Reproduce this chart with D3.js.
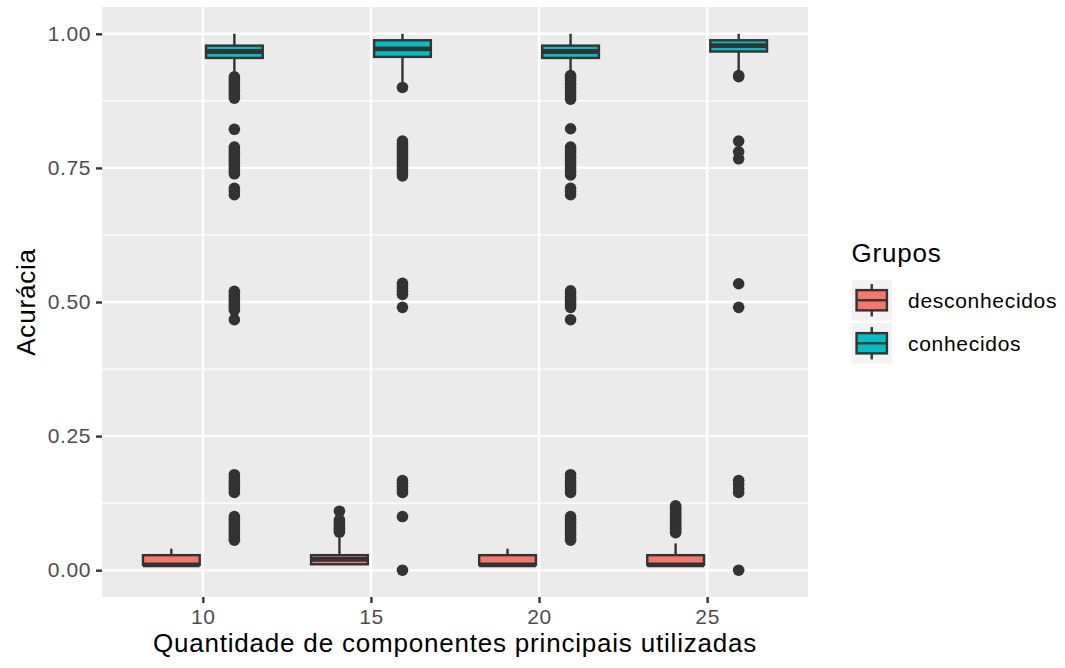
<!DOCTYPE html>
<html>
<head>
<meta charset="utf-8">
<script src="https://cdn.jsdelivr.net/npm/d3@7"></script>
<style>
  body { margin: 0; background: #fff; }
  svg text { font-family: "Liberation Sans", Arial, sans-serif; }
</style>
</head>
<body>
<script>
// categories / groups
var components = ["10", "15", "20", "25"];
var groups = ["desconhecidos", "conhecidos"];
var groupColors = ["#F8766D", "#00BFC4"];
var yTicks = [0, 0.25, 0.5, 0.75, 1];
var yMinor = [0.125, 0.375, 0.625, 0.875];

// box stats, one value per component
var descLower  = [0.01, 0.01, 0.01, 0.01];
var descQ1     = [0.01, 0.011, 0.01, 0.01];
var descMedian = [0.01, 0.02, 0.01, 0.01];
var descQ3     = [0.028, 0.028, 0.028, 0.028];
var descUpper  = [0.04, 0.06, 0.04, 0.05];

var conhLower  = [0.93, 0.91, 0.93, 0.932];
var conhQ1     = [0.955, 0.957, 0.955, 0.967];
var conhMedian = [0.967, 0.972, 0.967, 0.978];
var conhQ3     = [0.978, 0.988, 0.978, 0.988];
var conhUpper  = [1, 1, 1, 1];

// outliers
var outDesc10 = [];
var outDesc15 = [0.11, 0.094, 0.09, 0.086, 0.082, 0.078, 0.074, 0.071];
var outDesc20 = [];
var outDesc25 = [0.12, 0.117, 0.114, 0.111, 0.108, 0.105, 0.102, 0.099, 0.096, 0.093, 0.09,
                 0.087, 0.084, 0.081, 0.078, 0.075, 0.072, 0.07];

var outConh10 = [0.92, 0.915, 0.91, 0.905, 0.90, 0.895, 0.89, 0.885, 0.88,
                 0.822,
                 0.789, 0.784, 0.779, 0.774, 0.769, 0.764, 0.759, 0.754, 0.749, 0.744, 0.739,
                 0.712, 0.706, 0.70,
                 0.52, 0.515, 0.51, 0.505, 0.50, 0.495, 0.49, 0.485, 0.467,
                 0.178, 0.172, 0.166, 0.16, 0.155, 0.15, 0.145,
                 0.10, 0.095, 0.09, 0.085, 0.08, 0.075, 0.07, 0.065, 0.06, 0.056];
var outConh15 = [0.90,
                 0.80, 0.795, 0.79, 0.785, 0.78, 0.775, 0.77, 0.765, 0.76, 0.755, 0.75, 0.745, 0.74, 0.735,
                 0.535, 0.53, 0.525, 0.52, 0.514,
                 0.49,
                 0.167, 0.162, 0.156, 0.15, 0.145,
                 0.10,
                 0.0];
var outConh20 = [0.922, 0.917, 0.912, 0.906, 0.90, 0.895, 0.89, 0.884, 0.878,
                 0.823,
                 0.789, 0.784, 0.779, 0.774, 0.769, 0.764, 0.759, 0.754, 0.749, 0.743, 0.737,
                 0.712, 0.706, 0.70,
                 0.521, 0.516, 0.51, 0.505, 0.50, 0.495, 0.49, 0.467,
                 0.178, 0.172, 0.166, 0.16, 0.155, 0.15, 0.145,
                 0.10, 0.095, 0.09, 0.085, 0.08, 0.075, 0.07, 0.065, 0.06, 0.056];
var outConh25 = [0.922, 0.92, 0.80, 0.78, 0.767, 0.534, 0.49, 0.167, 0.16, 0.152, 0.145, 0.0];

var descOut = [outDesc10, outDesc15, outDesc20, outDesc25];
var conhOut = [outConh10, outConh15, outConh20, outConh25];

// build the box table
var boxes = [];
components.forEach(function(c, i) {
  boxes.push({comp: c, g: 0, lower: descLower[i], q1: descQ1[i], median: descMedian[i],
              q3: descQ3[i], upper: descUpper[i], out: descOut[i]});
  boxes.push({comp: c, g: 1, lower: conhLower[i], q1: conhQ1[i], median: conhMedian[i],
              q3: conhQ3[i], upper: conhUpper[i], out: conhOut[i]});
});

//positioning/sizing
var W = 1065, H = 668;
var panel = {left: 102, right: 808, top: 7, bottom: 597};
var lw = 2.4;
var tickFont = "21px", titleFont = "26px";

var x = d3.scalePoint().domain(components).range([panel.left, panel.right]).padding(0.6);
var y = d3.scaleLinear().domain([-0.05, 1.05]).range([panel.bottom, panel.top]);
var step = x.step();
var dodge = 0.1875 * step, boxW = 0.3375 * step;

var svg = d3.select("body").append("svg")
    .attr("width", W)
    .attr("height", H);

svg.append("rect")
   .attr("x", panel.left).attr("y", panel.top)
   .attr("width", panel.right - panel.left).attr("height", panel.bottom - panel.top)
   .attr("fill", "#EBEBEB");

// grid
svg.append("g").selectAll("line").data(yMinor).enter().append("line")
   .attr("x1", panel.left).attr("x2", panel.right)
   .attr("y1", d => y(d)).attr("y2", d => y(d))
   .attr("stroke", "#fff").attr("stroke-width", lw / 2);
svg.append("g").selectAll("line").data(yTicks).enter().append("line")
   .attr("x1", panel.left).attr("x2", panel.right)
   .attr("y1", d => y(d)).attr("y2", d => y(d))
   .attr("stroke", "#fff").attr("stroke-width", lw);
svg.append("g").selectAll("line").data(components).enter().append("line")
   .attr("y1", panel.top).attr("y2", panel.bottom)
   .attr("x1", d => x(d)).attr("x2", d => x(d))
   .attr("stroke", "#fff").attr("stroke-width", lw);

// boxes
var bx = d => x(d.comp) + (d.g === 0 ? -dodge : dodge);
var bg = svg.append("g").selectAll("g").data(boxes).enter().append("g");

bg.selectAll("circle").data(d => d.out.map(v => ({v: v, cx: bx(d)}))).enter()
  .append("circle")
  .attr("cx", d => d.cx).attr("cy", d => y(d.v)).attr("r", 5.8)
  .attr("fill", "#333333");

bg.append("line")
  .attr("x1", bx).attr("x2", bx)
  .attr("y1", d => y(d.q3)).attr("y2", d => y(d.upper))
  .attr("stroke", "#333333").attr("stroke-width", lw);
bg.append("line")
  .attr("x1", bx).attr("x2", bx)
  .attr("y1", d => y(d.q1)).attr("y2", d => y(d.lower))
  .attr("stroke", "#333333").attr("stroke-width", lw);
bg.append("rect")
  .attr("x", d => bx(d) - boxW / 2).attr("width", boxW)
  .attr("y", d => y(d.q3)).attr("height", d => y(d.q1) - y(d.q3))
  .attr("fill", d => groupColors[d.g])
  .attr("stroke", "#333333").attr("stroke-width", lw);
bg.append("line")
  .attr("x1", d => bx(d) - boxW / 2).attr("x2", d => bx(d) + boxW / 2)
  .attr("y1", d => y(d.median)).attr("y2", d => y(d.median))
  .attr("stroke", "#333333").attr("stroke-width", lw * 2);

// axes
var axis_y = d3.axisLeft(y).tickValues(yTicks).tickFormat(d3.format(".2f")).tickSize(6).tickPadding(5);
var gy = svg.append("g").attr("transform", "translate(" + panel.left + ",0)").call(axis_y);
var axis_x = d3.axisBottom(x).tickSize(6).tickPadding(6);
var gx = svg.append("g").attr("transform", "translate(0," + panel.bottom + ")").call(axis_x);

[gx, gy].forEach(function(g) {
  g.select(".domain").remove();
  g.selectAll(".tick line").attr("stroke", "#333333").attr("stroke-width", lw);
  g.selectAll(".tick text")
   .attr("fill", "#4D4D4D")
   .style("font-size", tickFont)
   .style("letter-spacing", "0.6px")
   .style("font-family", "'Liberation Sans', Arial, sans-serif");
});

svg.append("text")
   .attr("x", (panel.left + panel.right) / 2).attr("y", 652)
   .attr("text-anchor", "middle")
   .style("font-size", titleFont).style("letter-spacing", "0.8px")
   .text("Quantidade de componentes principais utilizadas");

svg.append("text")
   .attr("transform", "translate(35," + ((panel.top + panel.bottom) / 2) + ") rotate(-90)")
   .attr("text-anchor", "middle")
   .style("font-size", titleFont).style("letter-spacing", "0.8px")
   .text("Acurácia");

// legend
var leg = svg.append("g").attr("transform", "translate(851.5,0)");
leg.append("text").attr("x", 0).attr("y", 262)
   .style("font-size", titleFont).style("letter-spacing", "0.8px")
   .text("Grupos");

var keyS = 40.5, keyTop = [280, 323];
var keys = leg.selectAll("g.key").data(groups).enter().append("g")
   .attr("class", "key")
   .attr("transform", (d, i) => "translate(0," + keyTop[i] + ")");
keys.append("rect").attr("width", keyS).attr("height", keyS).attr("fill", "#F2F2F2");
keys.append("line").attr("x1", keyS / 2).attr("x2", keyS / 2)
    .attr("y1", keyS * 0.1).attr("y2", keyS * 0.9)
    .attr("stroke", "#333333").attr("stroke-width", lw);
keys.append("rect")
    .attr("x", keyS * 0.125).attr("width", keyS * 0.75)
    .attr("y", keyS * 0.25).attr("height", keyS * 0.5)
    .attr("fill", (d, i) => groupColors[i])
    .attr("stroke", "#333333").attr("stroke-width", lw);
keys.append("line").attr("x1", keyS * 0.125).attr("x2", keyS * 0.875)
    .attr("y1", keyS / 2).attr("y2", keyS / 2)
    .attr("stroke", "#333333").attr("stroke-width", lw);
keys.append("text")
    .attr("x", 56.5).attr("y", keyS / 2).attr("dy", "0.35em")
    .style("font-size", tickFont).style("letter-spacing", "0.7px")
    .text(d => d);
</script>
</body>
</html>
